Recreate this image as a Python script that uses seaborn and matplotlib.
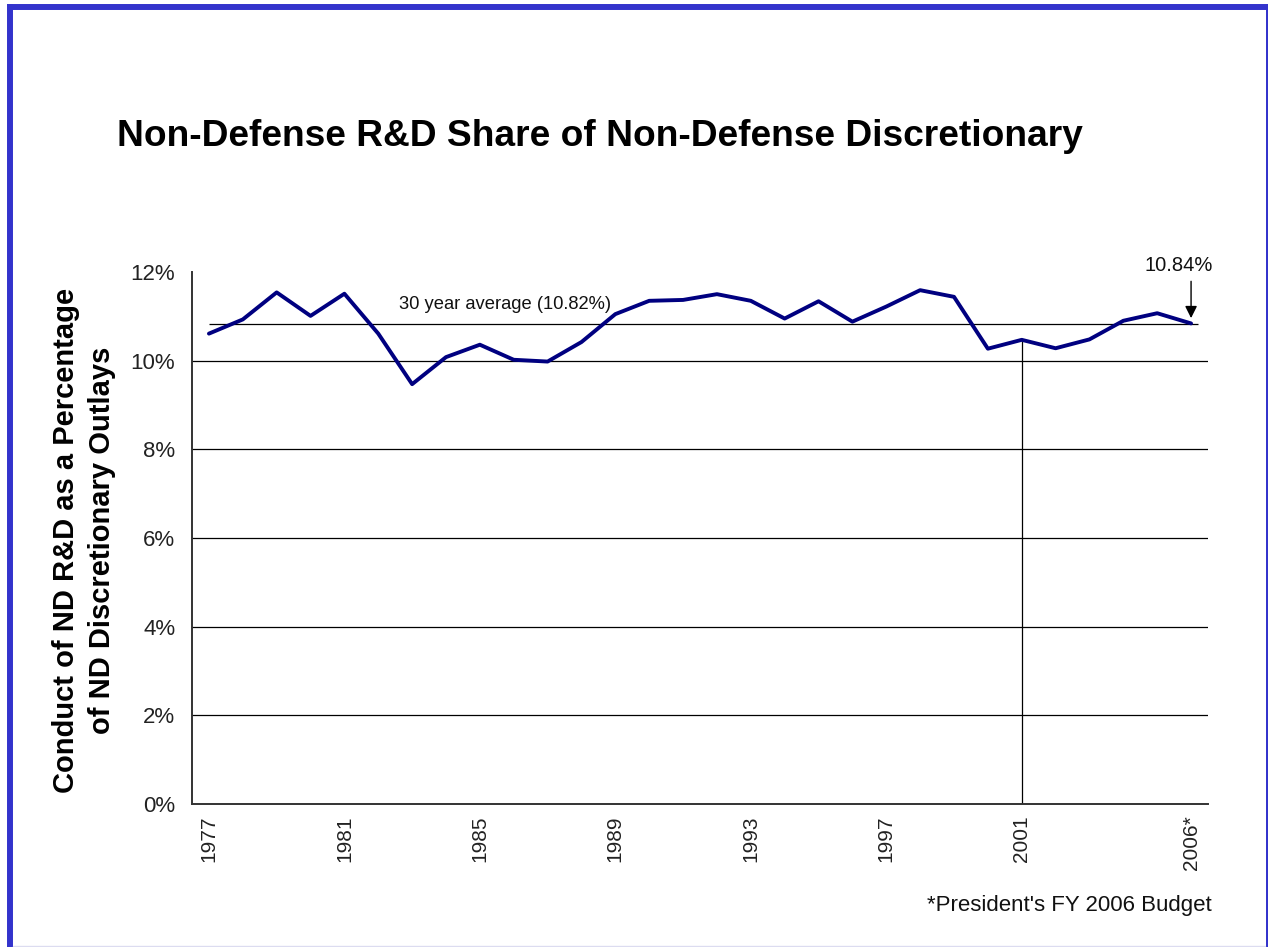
import numpy as np
import pandas as pd
import matplotlib
matplotlib.use("Agg")
import matplotlib.pyplot as plt
from matplotlib.lines import Line2D
import seaborn as sns

# Non-defense R&D as a share of non-defense discretionary outlays (%)
years = [str(y) for y in range(1977, 2006)] + ["2006*"]
share = [10.61, 10.93, 11.54, 11.01, 11.51, 10.61, 9.47, 10.08, 10.36, 10.02,
         9.98, 10.42, 11.05, 11.35, 11.37, 11.50, 11.35, 10.95, 11.34, 10.88,
         11.22, 11.59, 11.44, 10.27, 10.47, 10.28, 10.48, 10.90, 11.07, 10.84]
average = 10.82
labelled_years = ["1977", "1981", "1985", "1989", "1993", "1997", "2001", "2006*"]
y_ticks = [0, 2, 4, 6, 8, 10, 12]
marker_year = "2001"

df = pd.DataFrame({"year": years, "share": share})
df["pos"] = np.arange(len(df))

sns.set_style("white")
plt.rcParams["font.family"] = ["Liberation Sans", "DejaVu Sans"]

W, H = 1268, 947
fig = plt.figure(figsize=(W / 100, H / 100), dpi=100)
fig.patch.set_facecolor("white")
ax = fig.add_axes([192 / W, 1 - 804 / H, (1208 - 192) / W, (804 - 272) / H])
ax.set_facecolor("white")

# horizontal gridlines
for yv in y_ticks[1:-1]:
    ax.axhline(yv, color="black", lw=0.9, zorder=1)

# vertical marker from the axis up to the 2001 value
mi = years.index(marker_year)
ax.vlines(mi, 0, share[mi], color="black", lw=0.9, zorder=1)

# 30-year average line and label
ax.hlines(average, 0, len(years) - 1 + 0.2, color="black", lw=0.9, zorder=1)
ax.text(8.74, average + 0.45, f"30 year average ({average:.2f}%)",
        ha="center", va="center", fontsize=13.2, color="#111111")

sns.lineplot(data=df, x="pos", y="share", color="#000080", lw=2.8, ax=ax,
             zorder=3, legend=False)

# final value callout: label above a vertical arrow
last = len(years) - 1
ax.text(last - 0.38, share[-1] + 1.3, f"{share[-1]:.2f}%",
        ha="center", va="center", fontsize=14.5, color="#111111")
ax.annotate("", xy=(last, share[-1] + 0.12), xytext=(last, share[-1] + 0.95),
            arrowprops=dict(arrowstyle="-|>", color="black", lw=1.0,
                            mutation_scale=18, shrinkA=0, shrinkB=0))

ax.set_xlim(-0.5, len(years) - 0.5)
ax.set_ylim(0, 12)
ax.set_yticks(y_ticks)
ax.set_yticklabels([f"{v}%" for v in y_ticks])
ax.set_xticks([years.index(y) for y in labelled_years])
ax.set_xticklabels(labelled_years, rotation=90, va="top")
ax.set_xticks(np.arange(-0.5, len(years), 1), minor=True)
ax.tick_params(axis="x", which="major", length=0, pad=8, labelsize=15,
               labelcolor="#222222")
ax.tick_params(axis="x", which="minor", length=6, width=1.3, color="#333333",
               direction="out")
ax.tick_params(axis="y", which="major", length=6, width=1.3, color="#333333",
               direction="out", pad=6, labelsize=16, labelcolor="#222222")
ax.set_xlabel("")
ax.set_ylabel("")
for side in ["top", "right"]:
    ax.spines[side].set_visible(False)
for side in ["left", "bottom"]:
    ax.spines[side].set_color("#333333")
    ax.spines[side].set_linewidth(1.4)

fig.text(599.5 / W, 1 - 136 / H, "Non-Defense R&D Share of Non-Defense Discretionary",
         ha="center", va="center", fontsize=26.7, fontweight="bold", color="black")
fig.text(84 / W, 1 - 540 / H,
         "Conduct of ND R&D as a Percentage\nof ND Discretionary Outlays",
         ha="center", va="center", rotation=90, multialignment="center",
         fontsize=21, fontweight="bold", color="black", linespacing=1.38)
fig.text(1212 / W, 1 - 905 / H, "*President's FY 2006 Budget",
         ha="right", va="center", fontsize=16, color="#111111")

# slide frame
blue = "#3333CC"
fig.add_artist(Line2D([10 / W, 10 / W], [1 - 7 / H, 0], transform=fig.transFigure,
                      color=blue, lw=4.3, solid_capstyle="projecting"))
fig.add_artist(Line2D([10 / W, 1], [1 - 7 / H, 1 - 7 / H], transform=fig.transFigure,
                      color=blue, lw=4.3, solid_capstyle="projecting"))
fig.add_artist(Line2D([1269 / W, 1269 / W], [1 - 7 / H, 0], transform=fig.transFigure,
                      color=blue, lw=4.3))
fig.add_artist(Line2D([13 / W, 1265 / W], [1 - 945.5 / H, 1 - 945.5 / H],
                      transform=fig.transFigure, color="#dcdcf0", lw=1.0))

fig.savefig("out.png", dpi=100, facecolor="white")
